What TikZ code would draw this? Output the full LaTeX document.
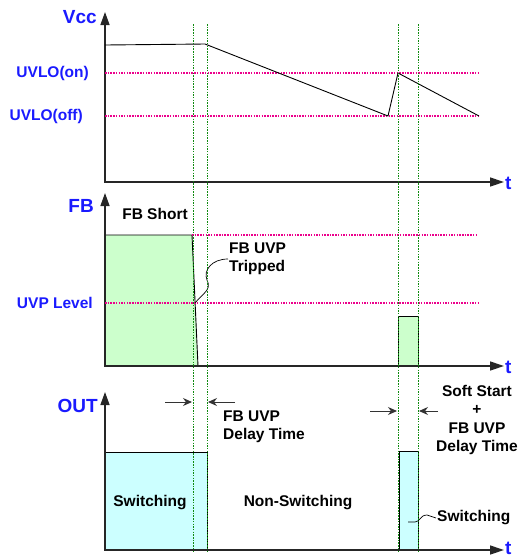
\documentclass[tikz,border=0pt]{standalone}
\usepackage{fontspec}
\setmainfont{Liberation Sans}
\usetikzlibrary{arrows.meta,positioning}
\definecolor{fbgreen}{HTML}{CCFFCC}
\definecolor{outcyan}{HTML}{CCFFFF}
\definecolor{lblblue}{HTML}{1A1AFF}
\definecolor{mkgreen}{HTML}{108A10}

\begin{document}
\begin{tikzpicture}[x=1pt, y=-1pt,
    axis/.style={line width=1.4pt, draw=black!85, {Triangle[length=13pt,width=9pt]}-{Triangle[length=14pt,width=9pt]}},
    wave/.style={line width=0.9pt, black},
    level/.style={dash pattern=on 1.5pt off 1.2pt, line width=1.1pt, magenta},
    marker/.style={dash pattern=on 1.5pt off 1.2pt, line width=0.95pt, mkgreen},
    sig/.style={font=\fontsize{19}{22}\selectfont\bfseries, text=lblblue, inner sep=1pt},
    lvl/.style={font=\fontsize{15.5}{18}\selectfont\bfseries, text=lblblue, inner sep=1pt},
    lbl/.style={font=\fontsize{15.5}{18.5}\selectfont\bfseries, inner sep=1pt},
    arr/.style={-{Stealth[length=9pt,width=8pt]}, line width=1pt, black!80},
    fbbox/.style={fill=fbgreen, draw=black, line width=0.9pt},
    outbox/.style={fill=outcyan, draw=black, line width=0.9pt},
  ]
  \useasboundingbox (0,0) rectangle (525,558);

  % Vcc panel
  \coordinate (v0) at (105,182);
  \draw[axis] (105,12) -- (v0) -- (504,182);
  \node[sig, anchor=east] (vcc) at (98,17) {Vcc};
  \node[sig, anchor=west] (tv) at (504,183) {t};
  \draw[level] (105,73) -- (478,73);
  \draw[level] (105,116) -- (478,116);
  \node[lvl, anchor=east] (uon) at (90,73) {UVLO(on)};
  \node[lvl, anchor=east] (uoff) at (84,116) {UVLO(off)};
  \draw[wave] (105,45) -- (205,44) -- (388,116) -- (398,73) -- (479,116);

  % FB panel
  \coordinate (f0) at (105,366);
  \draw[fbbox] (105,235) -- (192,235) -- (198,366) -- (105,366) -- cycle;
  \draw[fbbox] (398,316) rectangle (418,366);
  \draw[axis] (105,193) -- (f0) -- (504,366);
  \node[sig, anchor=east] (fb) at (95,206) {FB};
  \node[sig, anchor=west] (tf) at (504,367) {t};
  \draw[level] (192,235) -- (478,235);
  \draw[level] (105,303) -- (478,303);
  \node[lvl, anchor=east] (uvp) at (94,303) {UVP Level};
  \node[lbl] (short) at (155,214) {FB Short};
  \node[lbl, align=left, anchor=west] (trip) at (228,259) {FB UVP\\Tripped};
  \coordinate (tripat) at (195,303);
  \draw[line width=0.7pt] (tripat) .. controls (203,293) and (212,290) .. (207,280)
    .. controls (203,270) and (212,259) .. (trip.west);

  % OUT panel
  \coordinate (o0) at (105,550);
  \draw[outbox] (105,452) rectangle (207,550);
  \draw[outbox] (399,451) rectangle (418,549);
  \draw[axis] (105,392) -- (o0) -- (504,550);
  \node[sig, anchor=west] (to) at (504,548.5) {t};
  \node[sig, anchor=east] (out) at (99,406) {OUT};
  \node[lbl] (swa) at (150,503) {Switching};
  \node[lbl] (nsw) at (298,503) {Non-Switching};
  \node[lbl, anchor=west] (swb) at (436,518) {Switching};
  \draw[line width=0.7pt] (408,522) -- (415,522) .. controls (420,522) and (420,515) .. (427,515) -- (swb.west);
  \node[lbl, align=left, anchor=west] (dly) at (222,427) {FB UVP\\Delay Time};
  \node[lbl, align=center] (soft) at (477,420) {Soft Start\\+\\FB UVP\\Delay Time};

  % delay markers
  \foreach \x/\name in {193/ma, 207/mb, 398/mc, 418/md} {
    \coordinate (\name top) at (\x,24);
    \coordinate (\name bot) at (\x,551);
    \draw[marker] (\name top) -- (\name bot);
  }
  \coordinate (ain) at (165,402);
  \coordinate (aout) at (235,402);
  \draw[arr] (ain) -- (192,402);
  \draw[arr] (aout) -- (208,402);
  \coordinate (bin) at (370,411);
  \coordinate (bout) at (438,411);
  \draw[arr] (bin) -- (397,411);
  \draw[arr] (bout) -- (419,411);
\end{tikzpicture}
\end{document}
